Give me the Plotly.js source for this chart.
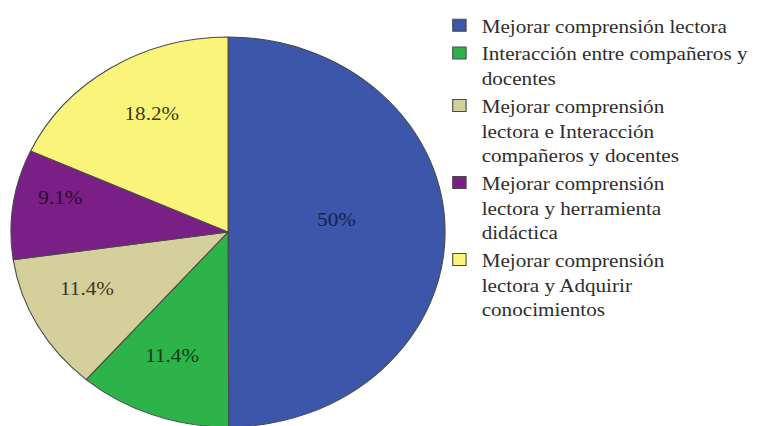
<!DOCTYPE html>
<html>
<head>
<meta charset="utf-8">
<script src="https://cdn.plot.ly/plotly-3.0.1.min.js"></script>
<style>
html, body { margin: 0; padding: 0; background: #ffffff; overflow: hidden; width: 769px; height: 426px; }
#chart { width: 691px; height: 430px; transform: scaleX(1.113); transform-origin: 0 0; }
</style>
</head>
<body>
<div id="chart"></div>
<script>
// Categories (legend labels)
const categories = [
  "Mejorar comprensión lectora",
  "Interacción entre compañeros y<br>docentes",
  "Mejorar comprensión<br>lectora e Interacción<br>compañeros y docentes",
  "Mejorar comprensión<br>lectora y herramienta<br>didáctica",
  "Mejorar comprensión<br>lectora y Adquirir<br>conocimientos"
];
// Percent values
const values = [50, 11.4, 11.4, 9.1, 18.2];
// Slice labels as printed
const sliceText = ["50%", "11.4%", "11.4%", "9.1%", "18.2%"];
const colors = ["#3c56a9", "#2db34a", "#d5cf9c", "#7a1f85", "#fbf47a"];
const textColors = ["#16224f", "#0b3a16", "#3a3826", "#2a0a30", "#3a3812"];

const SERIF = "Liberation Serif";

const trace = {
  type: "pie",
  labels: categories,
  values: values,
  text: sliceText,
  texttemplate: "%{text}<br> ",
  textposition: "inside",
  insidetextorientation: "horizontal",
  sort: false,
  direction: "clockwise",
  rotation: 0,
  marker: { colors: colors, line: { color: "#4a4a4a", width: 1 } },
  insidetextfont: { family: SERIF, size: 19, color: textColors },
  domain: { x: [9.9/691, 399.9/691], y: [3/430, 393/430] },
  hoverinfo: "label+text"
};

const layout = {
  width: 691,
  height: 430,
  margin: { l: 0, r: 0, t: 0, b: 0 },
  paper_bgcolor: "#ffffff",
  font: { family: SERIF },
  showlegend: true,
  legend: {
    x: 0.5684, y: 0.985, xanchor: "left", yanchor: "top",
    valign: "top",
    font: { family: SERIF, size: 19, color: "#2e2e2e" },
    bgcolor: "rgba(0,0,0,0)",
    traceorder: "normal"
  }
};

Plotly.newPlot("chart", [trace], layout, { displayModeBar: false, staticPlot: true });
</script>
</body>
</html>
